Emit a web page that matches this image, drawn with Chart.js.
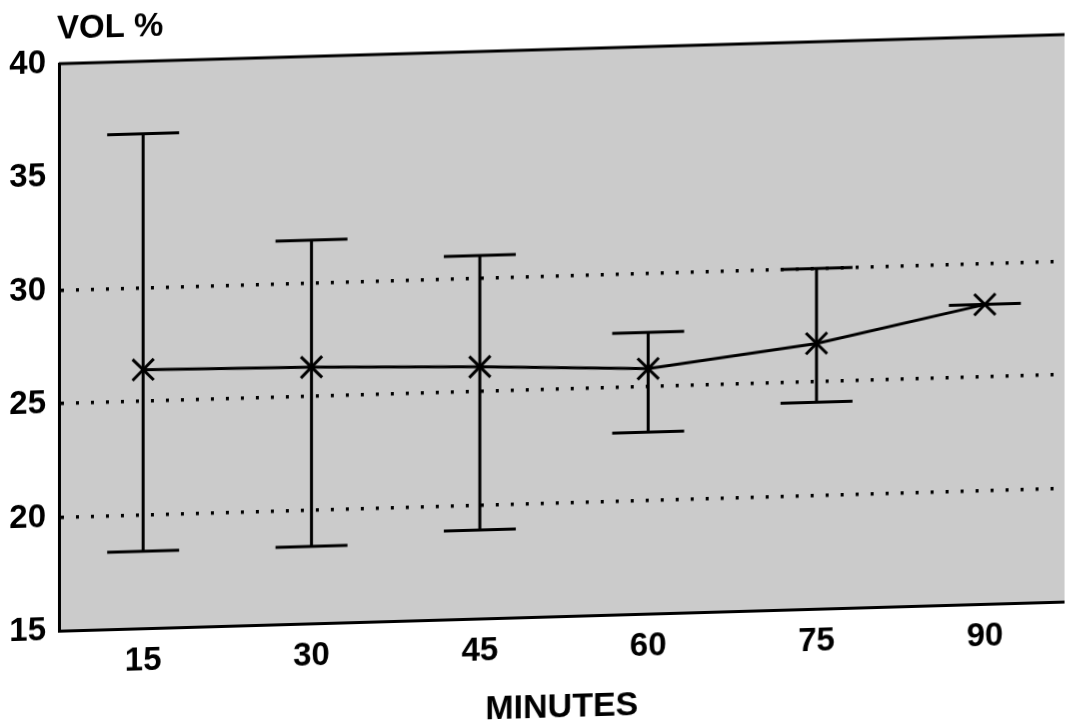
<!DOCTYPE html>
<html>
<head>
<meta charset="utf-8">
<script src="https://cdn.jsdelivr.net/npm/chart.js@4/dist/chart.umd.min.js"></script>
<style>
  html, body { margin: 0; padding: 0; background: #fff; overflow: hidden; }
  /* the scanned figure is sheared a little, right side higher */
  #wrap { width: 1065px; height: 722px; transform: skewY(-1.66deg); transform-origin: 532px 361px; }
</style>
</head>
<body>
<div id="wrap"><canvas id="myChart" width="1065" height="722"></canvas></div>
<script>
// values
const minutes = [15, 30, 45, 60, 75, 90];
const meanVol = [26.4, 26.3, 26.1, 25.8, 26.7, 28.2];
const upperVol = [36.8, 31.9, 31.0, 27.4, 30.0, 28.2];
const lowerVol = [18.4, 18.4, 18.9, 23.0, 24.1, 28.2];
const xTicks = [15, 30, 45, 60, 75, 90];
const yTicks = [15, 20, 25, 30, 35, 40];
const gridValues = [20, 25, 30];

const FONT = "'Liberation Sans', Arial, sans-serif";

// grey background + top border + "VOL %"
const frame = {
    id: 'frame',
    beforeDraw(chart) {
        const {ctx, chartArea: a} = chart;
        ctx.save();
        ctx.fillStyle = '#cbcbcb';
        ctx.fillRect(a.left, a.top, a.right - a.left, a.bottom - a.top);
        ctx.restore();
    },
    afterDraw(chart) {
        const {ctx, chartArea: a} = chart;
        ctx.save();
        ctx.strokeStyle = '#000';
        ctx.lineWidth = 3;
        ctx.beginPath();
        ctx.moveTo(a.left, a.top);
        ctx.lineTo(a.right, a.top);
        ctx.stroke();
        ctx.fillStyle = '#000';
        ctx.font = 'bold 33px ' + FONT;
        ctx.textAlign = 'left';
        ctx.textBaseline = 'middle';
        ctx.fillText('VOL %', a.left - 2, 16);
        ctx.restore();
    }
};

// error bars drawn through the scales
const errorBars = {
    id: 'errorBars',
    beforeDatasetsDraw(chart) {
        const {ctx, scales: {x, y}} = chart;
        ctx.save();
        ctx.strokeStyle = '#000';
        ctx.lineWidth = 3;
        minutes.forEach((m, i) => {
            const px = x.getPixelForValue(m);
            const yu = y.getPixelForValue(upperVol[i]);
            const yl = y.getPixelForValue(lowerVol[i]);
            ctx.beginPath();
            ctx.moveTo(px, yu); ctx.lineTo(px, yl);
            ctx.moveTo(px - 36, yu); ctx.lineTo(px + 36, yu);
            ctx.moveTo(px - 36, yl); ctx.lineTo(px + 36, yl);
            ctx.stroke();
        });
        ctx.restore();
    }
};

const ctx = document.getElementById('myChart');
const myChart = new Chart(ctx, {
    type: 'line',
    data: {
        datasets: [{
            data: minutes.map((m, i) => ({x: m, y: meanVol[i]})),
            borderColor: '#000',
            borderWidth: 3,
            pointStyle: 'crossRot',
            pointRadius: 15,
            pointBorderWidth: 3,
            pointBorderColor: '#000',
            tension: 0,
            fill: false
        }]
    },
    options: {
        responsive: false,
        devicePixelRatio: 1,
        animation: false,
        layout: { autoPadding: false, padding: { top: 50, right: 0, left: 0, bottom: 0 } },
        plugins: { legend: { display: false }, tooltip: { enabled: false } },
        scales: {
            x: {
                type: 'linear',
                min: 7.5,
                max: 97.1,
                afterBuildTicks: s => { s.ticks = xTicks.map(v => ({value: v})); },
                afterFit: s => { s.height = 105; s.paddingRight = 0; s.paddingLeft = 0; },
                grid: { display: false, drawTicks: false },
                border: { color: '#000', width: 3 },
                ticks: { color: '#000', padding: 13, maxRotation: 0, font: { family: FONT, size: 33, weight: 'bold' } },
                title: {
                    display: true,
                    text: 'MINUTES',
                    color: '#000',
                    font: { family: FONT, size: 34, weight: 'bold' },
                    padding: { top: 0, bottom: -7 }
                }
            },
            y: {
                min: 15,
                max: 40,
                afterBuildTicks: s => { s.ticks = yTicks.map(v => ({value: v})); },
                afterFit: s => { s.width = 59; },
                // dotted grid lines at 20, 25, 30
                border: { color: '#000', width: 3, display: true, dash: [3, 12] },
                grid: {
                    drawTicks: false,
                    color: c => gridValues.includes(c.tick.value) ? '#000' : 'rgba(0,0,0,0)',
                    lineWidth: 3.5
                },
                ticks: { color: '#000', padding: 13, font: { family: FONT, size: 33, weight: 'bold' } }
            }
        }
    },
    plugins: [frame, errorBars]
});
</script>
</body>
</html>
